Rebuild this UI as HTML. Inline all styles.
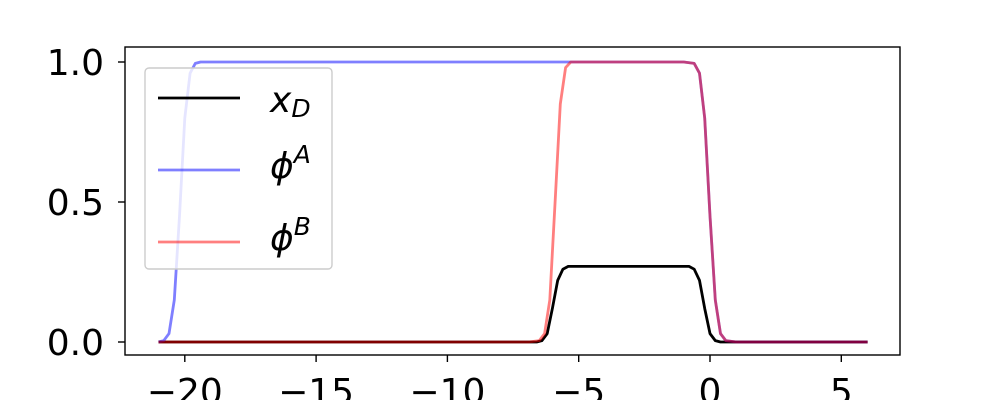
<!DOCTYPE html>
<html><head><meta charset="utf-8"><style>
html,body{margin:0;padding:0;background:#fff;width:1000px;height:400px;overflow:hidden}
text{font-family:"DejaVu Sans","Liberation Sans",sans-serif}
</style></head><body>
<svg id="chart" width="1000" height="400">
<g id="plot"></g>
</svg>
<script>
const xTicks=[-20,-15,-10,-5,0,5];
const xTickLabels=["−20","−15","−10","−5","0","5"];
const yTicks=[0,0.5,1];
const yTickLabels=["0.0","0.5","1.0"];
const phiAx=[-21,-20.8,-20.6,-20.4,-20.2,-20.0,-19.8,-19.6,-19.4,-1.0,-0.6,-0.4,-0.2,0,0.2,0.4,0.6,1.0,6];
const phiAy=[0,0.005,0.03,0.15,0.45,0.8,0.96,0.995,1,1,0.995,0.96,0.8,0.45,0.15,0.03,0.005,0,0];
const phiBx=[-21,-6.9,-6.5,-6.3,-6.1,-5.9,-5.7,-5.5,-5.3,-1.0,-0.6,-0.4,-0.2,0,0.2,0.4,0.6,1.0,6];
const phiBy=[0,0,0.005,0.03,0.15,0.5,0.85,0.98,1,1,0.995,0.96,0.8,0.45,0.15,0.03,0.005,0,0];
const xDx=[-21,-6.6,-6.4,-6.2,-6.0,-5.8,-5.6,-5.4,-0.8,-0.6,-0.4,-0.2,0,0.2,0.4,6];
const xDy=[0,0,0.005,0.03,0.12,0.22,0.26,0.27,0.27,0.26,0.22,0.12,0.03,0.005,0,0];
const L=125,R=900,T=47,B=355;
const sx=v=>710+v*26.26;
const sy=v=>342-v*280;
const NS="http://www.w3.org/2000/svg";
const g=document.getElementById('plot');
function mk(t,a){const e=document.createElementNS(NS,t);for(const k in a)e.setAttribute(k,a[k]);g.appendChild(e);return e;}
function line(xs,ys,color,op,name){
  const p=mk('path',{d:xs.map((x,i)=>(i?'L':'M')+sx(x).toFixed(1)+','+sy(ys[i]).toFixed(1)).join(''),fill:'none',stroke:color,'stroke-width':2.8,'stroke-opacity':op,'stroke-linejoin':'round'});
  
  
}
line(xDx,xDy,'#000',1,'series-xd');
line(phiAx,phiAy,'#0000ff',0.5,'series-phi-a');
line(phiBx,phiBy,'#ff0000',0.5,'series-phi-b');
const frame=mk('rect',{x:L,y:T,width:R-L,height:B-T,fill:'none',stroke:'#000','stroke-width':1.4});


xTicks.forEach((v,i)=>{
  mk('line',{x1:sx(v),x2:sx(v),y1:B,y2:B+7,stroke:'#000','stroke-width':1.4});
  const t=mk('text',{x:sx(v),y:B+49,'text-anchor':'middle','font-size':36});
  t.textContent=xTickLabels[i];
  
  
});
yTicks.forEach((v,i)=>{
  mk('line',{x1:L-7,x2:L,y1:sy(v),y2:sy(v),stroke:'#000','stroke-width':1.4});
  const t=mk('text',{x:L-21,y:sy(v)+13,'text-anchor':'end','font-size':36});
  t.textContent=yTickLabels[i];
  
  
});
const lg=mk('rect',{x:145,y:68,width:187,height:201,rx:4,fill:'#fff','fill-opacity':0.8,stroke:'#ccc','stroke-width':1.4});


const entries=[['#000',1,'x','D'],['#0000ff',0.5,'ϕ','A'],['#ff0000',0.5,'ϕ','B']];
entries.forEach((e,i)=>{
  const y=98+i*72;
  mk('line',{x1:158,x2:240,y1:y,y2:y,stroke:e[0],'stroke-opacity':e[1],'stroke-width':2.8});
  const t=mk('text',{x:270,y:y+(i===0?14:8),'font-size':36,'font-style':'italic'});
  t.innerHTML=e[2]+'<tspan font-size="25" dy="'+(i===0?5:-15)+'">'+e[3]+'</tspan>';
  
  
});
</script>
</body></html>
